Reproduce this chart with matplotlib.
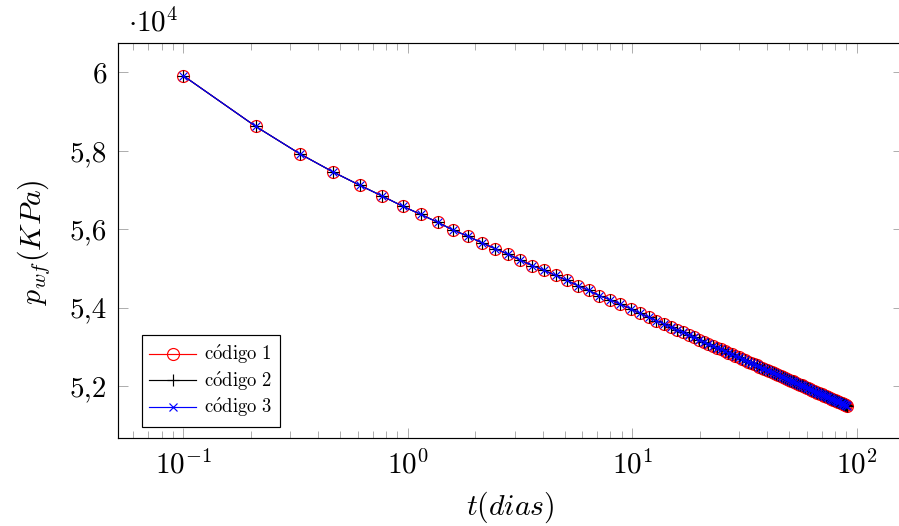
import matplotlib as mpl
mpl.use('Agg')
import matplotlib.pyplot as plt
from matplotlib.ticker import FixedLocator, FixedFormatter, LogLocator, NullFormatter

mpl.rcParams.update({
    'font.family': 'serif',
    'font.serif': ['cmr10'],
    'mathtext.fontset': 'cm',
    'axes.formatter.use_mathtext': True,
    'axes.unicode_minus': False,
})

# tiempo (dias) y presion de fondo (KPa)
t = [0.1, 0.21, 0.331, 0.464, 0.611, 0.772, 0.949, 1.144, 1.358, 1.594,
     1.853, 2.138, 2.452, 2.797, 3.177, 3.595, 4.054, 4.560, 5.116, 5.727,
     6.400, 7.140, 7.954, 8.850, 9.835, 10.835, 11.835, 12.835, 13.835, 14.835,
     15.835, 16.835, 17.835, 18.835, 19.835, 20.835, 21.835, 22.835, 23.835, 24.835,
     25.835, 26.835, 27.835, 28.835, 29.835, 30.835, 31.835, 32.835, 33.835, 34.835,
     35.835, 36.835, 37.835, 38.835, 39.835, 40.835, 41.835, 42.835, 43.835, 44.835,
     45.835, 46.835, 47.835, 48.835, 49.835, 50.835, 51.835, 52.835, 53.835, 54.835,
     55.835, 56.835, 57.835, 58.835, 59.835, 60.835, 61.835, 62.835, 63.835, 64.835,
     65.835, 66.835, 67.835, 68.835, 69.835, 70.835, 71.835, 72.835, 73.835, 74.835,
     75.835, 76.835, 77.835, 78.835, 79.835, 80.835, 81.835, 82.835, 83.835, 84.835,
     85.835, 86.835, 87.835, 88.835, 89.835, 90.835]
p1 = [59916, 58624, 57921, 57462, 57121, 56841, 56586, 56375, 56178, 55975,
      55822, 55653, 55501, 55363, 55210, 55068, 54948, 54820, 54693, 54558,
      54438, 54303, 54201, 54082, 53972, 53852, 53754, 53664, 53581, 53503,
      53431, 53363, 53298, 53238, 53180, 53126, 53074, 53024, 52976, 52931,
      52887, 52845, 52804, 52765, 52727, 52690, 52655, 52620, 52587, 52555,
      52523, 52493, 52463, 52434, 52406, 52378, 52351, 52325, 52299, 52274,
      52250, 52226, 52202, 52179, 52157, 52135, 52113, 52092, 52071, 52051,
      52031, 52011, 51991, 51972, 51954, 51935, 51917, 51899, 51882, 51865,
      51848, 51831, 51814, 51798, 51782, 51766, 51751, 51735, 51720, 51705,
      51690, 51676, 51662, 51647, 51633, 51620, 51606, 51592, 51579, 51566,
      51553, 51540, 51527, 51515, 51502, 51490]
p2 = list(p1)
p3 = list(p1)

ytick_vals = [52000, 54000, 56000, 58000, 60000]
ytick_labels = ['5,2', '5,4', '5,6', '5,8', '6']

fig = plt.figure(figsize=(8.99, 5.26), dpi=100)
ax = fig.add_axes([118/899, 1 - 438/526, 785/899, 395/526])

ax.plot(t, p1, '-', color='red', lw=0.85, marker='o', ms=8.6, mfc='none',
        mec='red', mew=0.85, label=r'$\mathrm{c\acute{o}digo\ 1}$')
ax.plot(t, p2, '-', color='black', lw=0.85, marker='+', ms=8.6, mew=0.85,
        label=r'$\mathrm{c\acute{o}digo\ 2}$')
ax.plot(t, p3, '-', color='blue', lw=0.85, marker='x', ms=6.2, mew=0.85,
        label=r'$\mathrm{c\acute{o}digo\ 3}$')

ax.set_xscale('log')
ax.set_xlim(0.0512, 161)
ax.set_ylim(50670, 60750)
ax.xaxis.set_major_locator(LogLocator(base=10, numticks=10))
ax.xaxis.set_minor_locator(LogLocator(base=10, subs=range(2, 10), numticks=20))
ax.xaxis.set_minor_formatter(NullFormatter())
ax.yaxis.set_major_locator(FixedLocator(ytick_vals))
ax.yaxis.set_major_formatter(FixedFormatter(ytick_labels))

ax.tick_params(which='both', direction='in', top=True, right=True,
               color='#a0a0a0', width=0.6, labelsize=21)
ax.tick_params(which='major', length=7.5)
ax.tick_params(which='minor', length=5)
ax.tick_params(axis='y', pad=8)
ax.tick_params(axis='x', pad=9)
for s in ax.spines.values():
    s.set_linewidth(0.85)

ax.set_xlabel(r'$t(dias)$', fontsize=21.5, va='center')
ax.xaxis.set_label_coords(0.5, -0.176)
ax.set_ylabel(r'$p_{wf}(KPa)$', fontsize=21.5, va='center')
ax.yaxis.set_label_coords(-0.1082, 0.496)

fig.text(128/899, 1 - 32/526, r'$\cdot 10^4$', fontsize=21, va='baseline', ha='left')

leg = ax.legend(loc='lower left', bbox_to_anchor=(0.030, 0.028), borderaxespad=0,
                fontsize=13.5, numpoints=1, handlelength=2.5, handletextpad=0.4,
                labelspacing=0.17, borderpad=0.42, fancybox=False, framealpha=1)
leg.get_frame().set_edgecolor('black')
leg.get_frame().set_linewidth(0.85)

plt.savefig('out.png', dpi=100)
